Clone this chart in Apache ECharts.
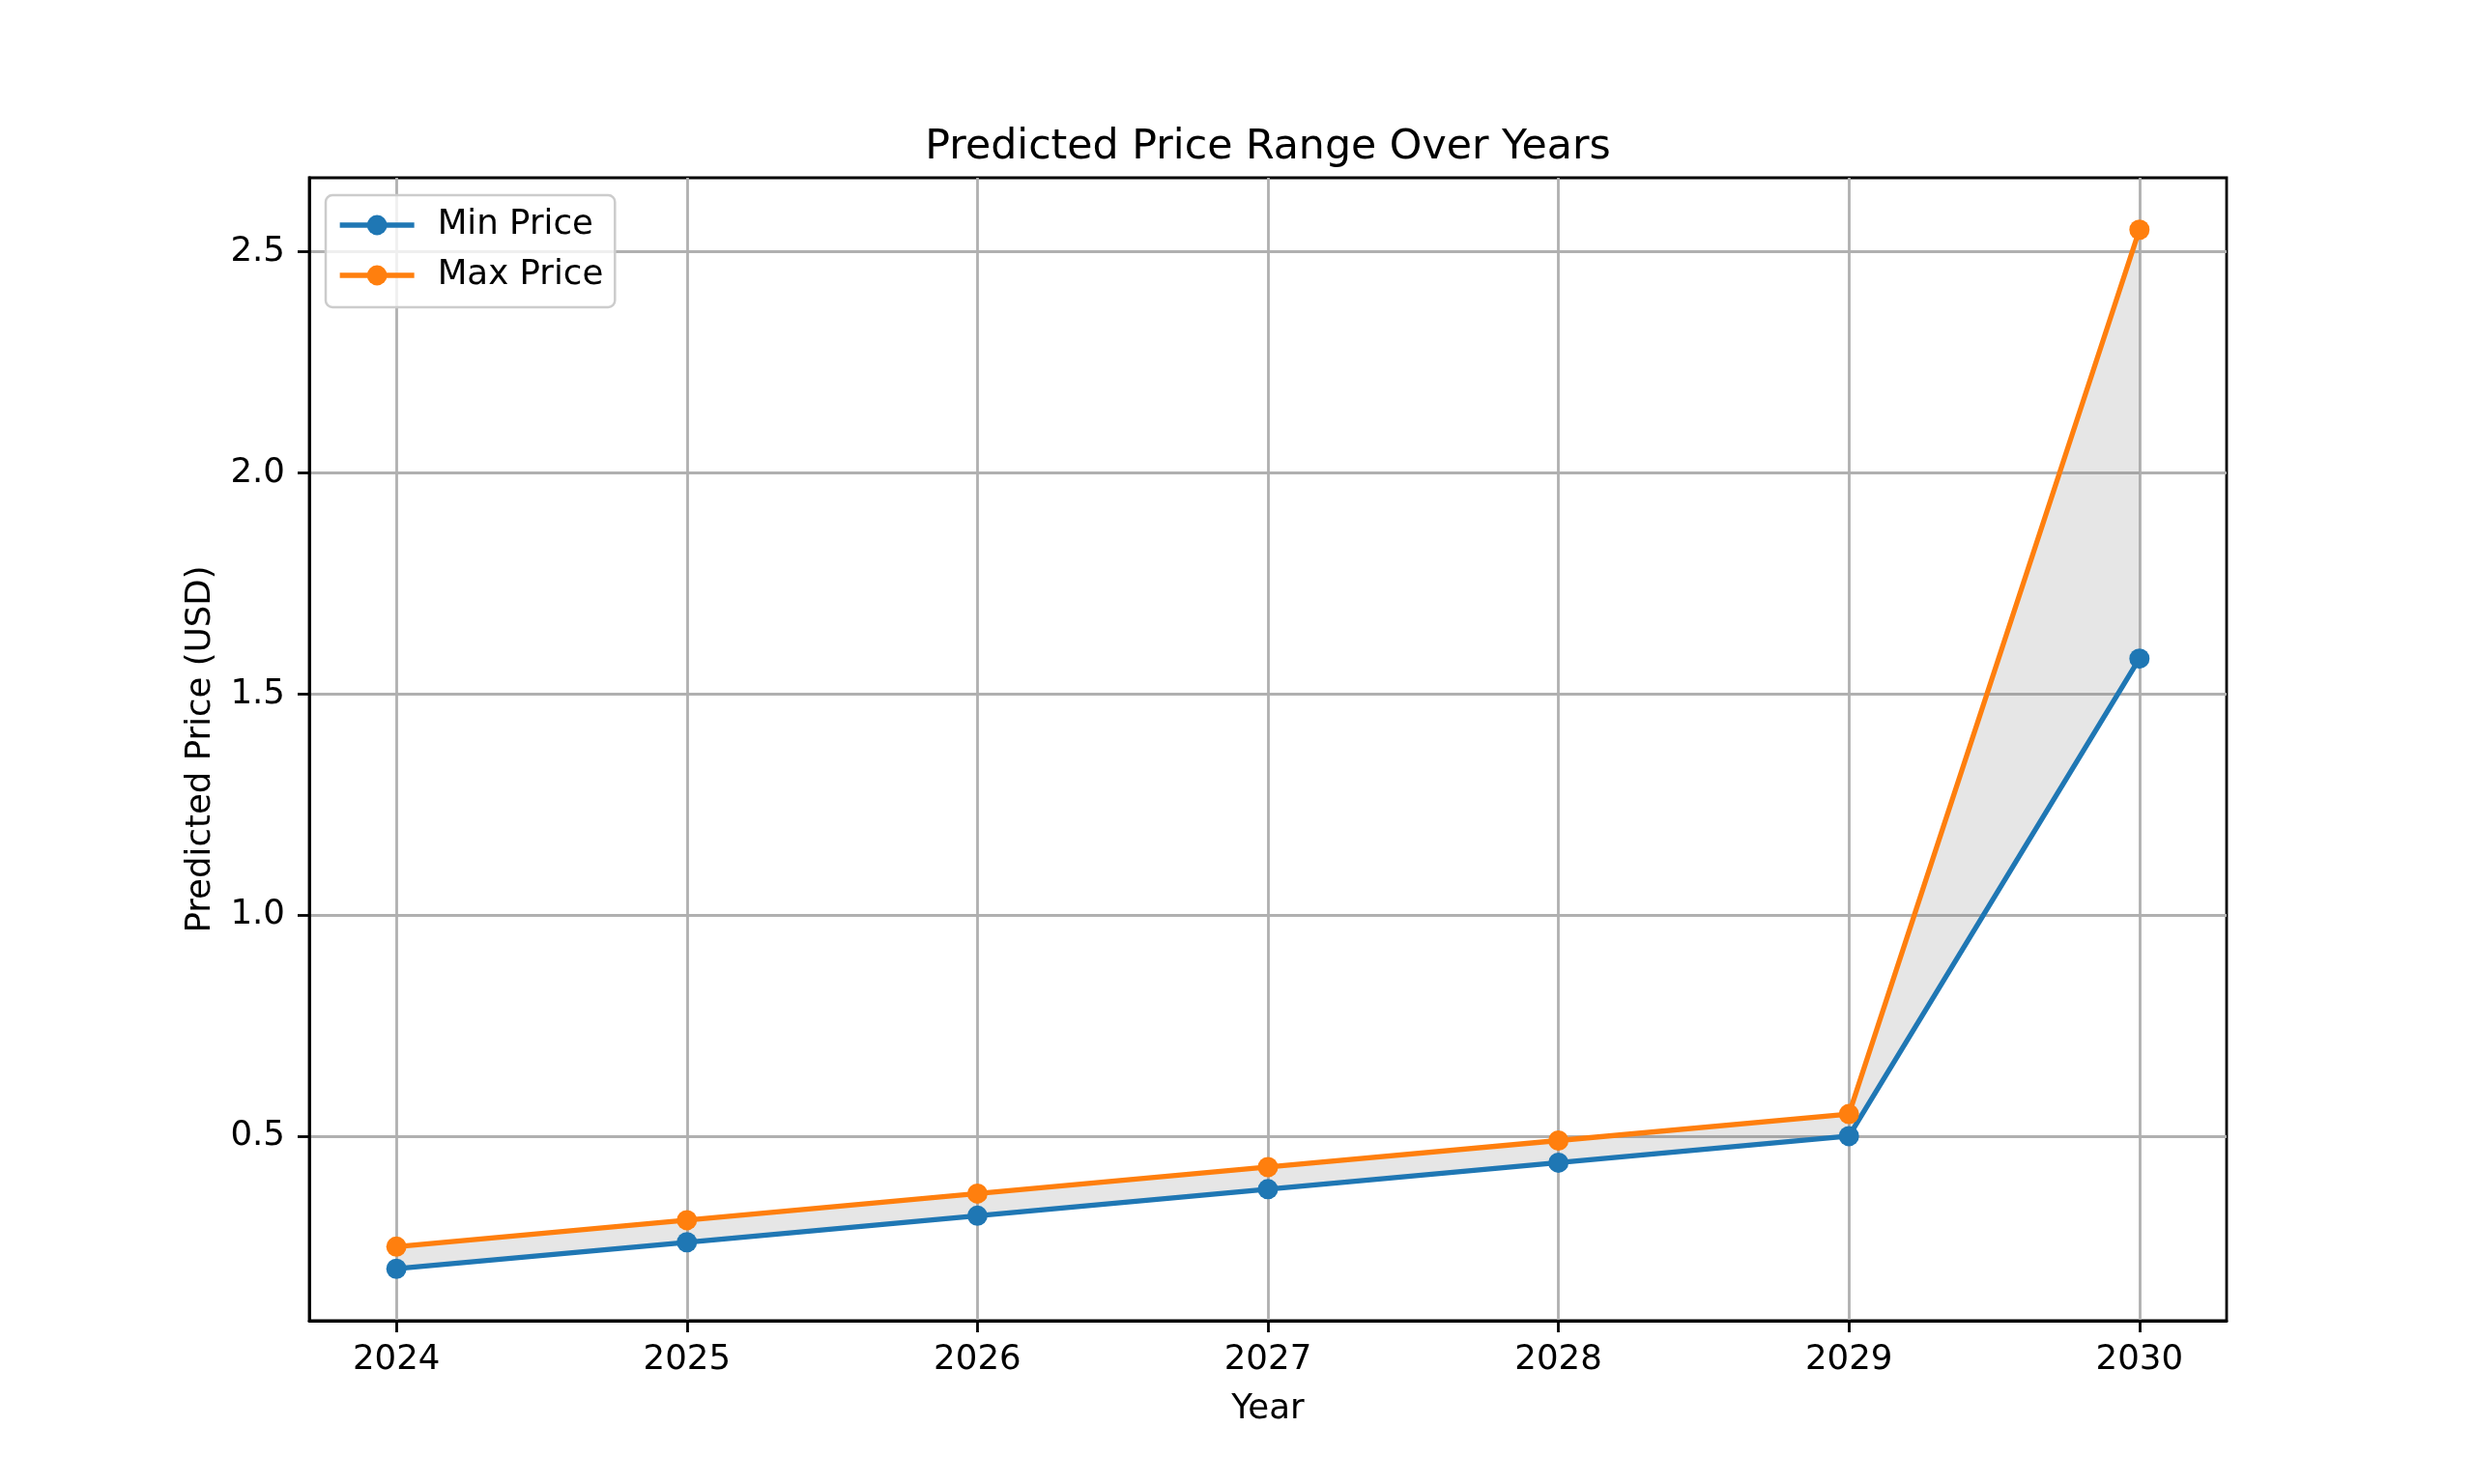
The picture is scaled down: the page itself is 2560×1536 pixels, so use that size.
<!DOCTYPE html>
<html>
<head>
<meta charset="utf-8">
<script src="https://cdn.jsdelivr.net/npm/echarts@6/dist/echarts.min.js"></script>
<style>html,body{margin:0;padding:0;background:#fff}#c{width:2560px;height:1536px}</style>
</head>
<body>
<div id="c"></div>
<script>
const years = [2024, 2025, 2026, 2027, 2028, 2029, 2030];
const minPrice = [0.20, 0.26, 0.32, 0.38, 0.44, 0.50, 1.58];
const maxPrice = [0.25, 0.31, 0.37, 0.43, 0.49, 0.55, 2.55];
const yTicks = [0.5, 1.0, 1.5, 2.0, 2.5];

const FONT = 'DejaVu Sans';
const chart = echarts.init(document.getElementById('c'), null, {renderer: 'canvas'});

const yLo = Math.min(...minPrice), yHi = Math.max(...maxPrice);
const yPad = (yHi - yLo) * 0.05;
const xPad = (years[years.length - 1] - years[0]) * 0.05;

const option = {
  backgroundColor: '#ffffff',
  animation: false,
  title: {
    text: 'Predicted Price Range Over Years',
    left: 1307, top: 126, textAlign: 'center',
    textStyle: {fontFamily: FONT, fontSize: 42.7, fontWeight: 'normal', color: '#000'}
  },
  legend: {
    orient: 'vertical', left: 337, top: 202,
    padding: [13, 12, 15, 12], itemGap: 16,
    itemWidth: 77, itemHeight: 26,
    lineStyle: {width: 5.3},
    borderColor: '#cccccc', borderWidth: 2.5, borderRadius: 7,
    backgroundColor: 'rgba(255,255,255,0.8)',
    textStyle: {fontFamily: FONT, fontSize: 35.6, color: '#000', padding: [0, 0, 0, 19], lineHeight: 36},
    data: ['Min Price', 'Max Price']
  },
  grid: {left: 320, right: 256, top: 184, bottom: 169, show: true, borderColor: '#000', borderWidth: 2.8, containLabel: false},
  xAxis: {
    type: 'value', min: years[0] - xPad, max: years[years.length - 1] + xPad,
    name: 'Year', nameLocation: 'middle', nameGap: 74,
    nameTextStyle: {fontFamily: FONT, fontSize: 35.6, color: '#000'},
    axisLine: {show: true, lineStyle: {color: '#000', width: 2.8}},
    axisTick: {show: true, length: 12, lineStyle: {color: '#000', width: 2.8}, customValues: years},
    axisLabel: {fontFamily: FONT, fontSize: 35.6, color: '#000', margin: 23, customValues: years, formatter: v => String(v)},
    splitLine: {show: true, lineStyle: {color: '#b0b0b0', width: 2.8}, customValues: years}
  },
  yAxis: {
    type: 'value', min: yLo - yPad, max: yHi + yPad,
    name: 'Predicted Price (USD)', nameLocation: 'middle', nameGap: 94, nameRotate: 90,
    nameTextStyle: {fontFamily: FONT, fontSize: 35.6, color: '#000'},
    axisLine: {show: true, lineStyle: {color: '#000', width: 2.8}},
    axisTick: {show: true, length: 12, lineStyle: {color: '#000', width: 2.8}, customValues: yTicks},
    axisLabel: {fontFamily: FONT, fontSize: 35.6, color: '#000', margin: 25, customValues: yTicks, formatter: v => v.toFixed(1)},
    splitLine: {show: true, lineStyle: {color: '#b0b0b0', width: 2.8}, customValues: yTicks}
  },
  series: [
    {
      type: 'custom', name: 'range', silent: true, z: 1,
      data: years.map((y, i) => [y, minPrice[i], maxPrice[i]]),
      renderItem: function (params, api) {
        if (params.dataIndex !== 0) return null;
        const pts = [];
        for (let i = 0; i < years.length; i++) pts.push(api.coord([years[i], maxPrice[i]]));
        for (let i = years.length - 1; i >= 0; i--) pts.push(api.coord([years[i], minPrice[i]]));
        return {type: 'polygon', shape: {points: pts}, style: {fill: 'rgba(128,128,128,0.2)'}};
      },
      encode: {x: 0, y: [1, 2]}
    },
    {
      type: 'line', name: 'Min Price', z: 3,
      data: years.map((y, i) => [y, minPrice[i]]),
      symbol: 'circle', symbolSize: 21,
      itemStyle: {color: '#1f77b4'},
      lineStyle: {color: '#1f77b4', width: 5.3}
    },
    {
      type: 'line', name: 'Max Price', z: 4,
      data: years.map((y, i) => [y, maxPrice[i]]),
      symbol: 'circle', symbolSize: 21,
      itemStyle: {color: '#ff7f0e'},
      lineStyle: {color: '#ff7f0e', width: 5.3}
    }
  ]
};
chart.setOption(option);
</script>
</body>
</html>
